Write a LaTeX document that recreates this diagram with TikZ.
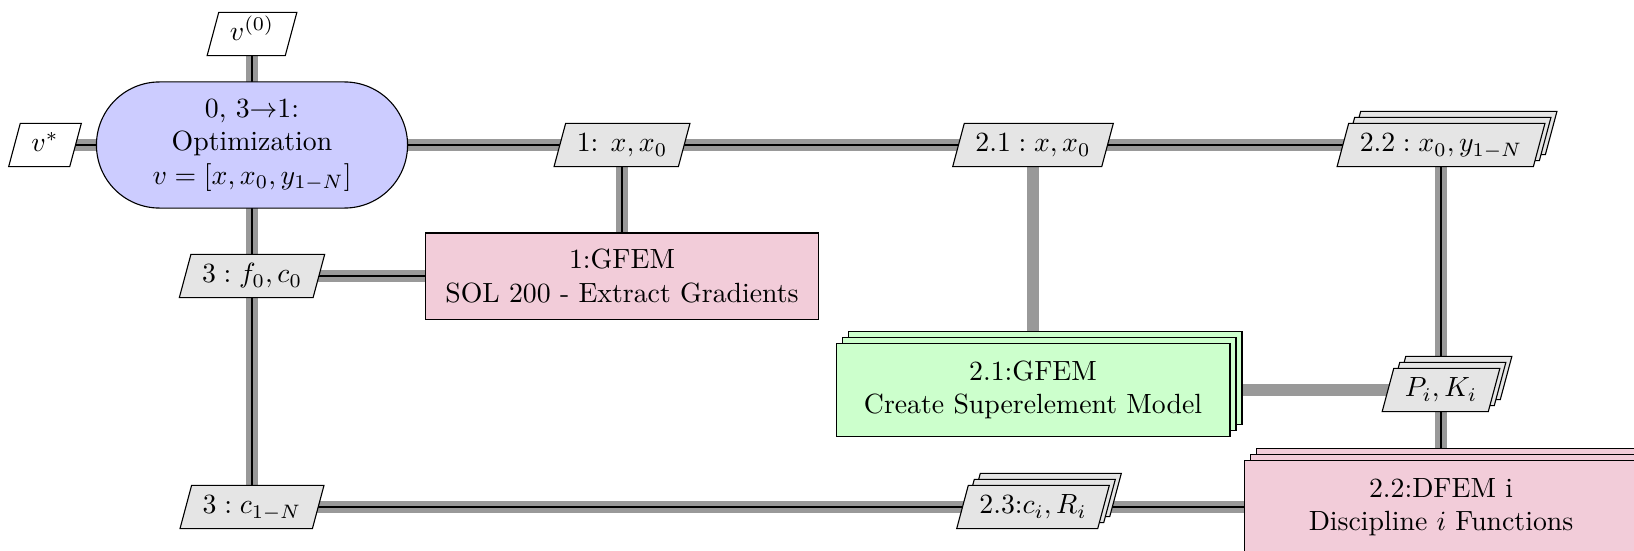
\documentclass[tikz,border=0pt]{standalone}
\usetikzlibrary{shapes.geometric,shapes.misc,shadows,backgrounds}
\definecolor{linegray}{gray}{0.6}
\definecolor{datafill}{gray}{0.9}
\definecolor{optfill}{rgb}{0.8,0.8,1}
\definecolor{funcfill}{rgb}{0.95,0.8,0.85}
\definecolor{anafill}{rgb}{0.8,1,0.8}
\tikzset{
  datanode/.style={draw, fill=datafill, trapezium, trapezium left angle=75, trapezium right angle=105,
    inner xsep=4pt, inner ysep=2.8pt, text height=7.5pt, text depth=2.5pt},
  ionode/.style={datanode, fill=white},
  stackshadow/.style={double copy shadow={shadow xshift=2.16pt, shadow yshift=2.16pt}},
  stackdata/.style={datanode, stackshadow},
  optnode/.style={draw, fill=optfill, rounded rectangle, minimum width=112pt, minimum height=45.4pt,
    align=center, inner sep=0pt},
  funcnode/.style={draw, fill=funcfill, rectangle, minimum width=141.5pt, minimum height=31pt,
    align=center, inner sep=0pt},
  stackfunc/.style={draw, fill=funcfill, rectangle, minimum width=141.8pt, minimum height=33.5pt,
    align=center, inner sep=0pt, stackshadow},
  stackana/.style={draw, fill=anafill, rectangle, minimum width=141.8pt, minimum height=33.5pt,
    align=center, inner sep=0pt, stackshadow},
  dataline/.style={draw=linegray, line width=4.6pt},
  procline/.style={draw=black, line width=1pt},
}
\begin{document}
\begin{tikzpicture}[x=0.36pt, y=-0.36pt]
\useasboundingbox (0,0) rectangle (1634,550);
\clip (0,0) rectangle (1634,550);
% nodes
\node[ionode] (v0) at (252,34) {$v^{(0)}$};
\node[ionode] (vstar) at (45,145) {$v^*$};
\node[optnode] (opt) at (252,145) {0, 3$\rightarrow$1:\\Optimization\\$v=[x, x_0, y_{1-N}]$};
\node[datanode] (d1) at (622,145) {1: $x, x_0$};
\node[datanode] (d21) at (1033,145) {$2.1: x, x_0$};
\node[stackdata] (d22) at (1441,145) {$2.2: x_0, y_{1-N}$};
\node[datanode] (d3f) at (252,276) {$3: f_0, c_0$};
\node[funcnode] (gfem1) at (622,276) {1:GFEM\\SOL 200 - Extract Gradients};
\node[stackana] (green) at (1033,390) {2.1:GFEM\\Create Superelement Model};
\node[stackdata] (pk) at (1441,390) {$P_i, K_i$};
\node[datanode] (d3c) at (252,507) {$3: c_{1-N}$};
\node[stackdata] (d23) at (1033,507) {2.3:$c_i, R_i$};
\node[stackfunc] (dfem) at (1441,507) {2.2:DFEM i\\Discipline $i$ Functions};
% connectors
\begin{scope}[on background layer]
\foreach \a/\b in {v0/opt, vstar/opt, opt/d1, d1/d21, d21/d22, d1/gfem1, d21/green, green/pk,
    d22/pk, pk/dfem, opt/d3f, d3f/d3c, d3f/gfem1, d3c/d23, d23/dfem}
  \draw[dataline] (\a.center) -- (\b.center);
\foreach \a/\b in {v0/opt, vstar/opt, opt/d1, d1/d21, d21/d22, d1/gfem1,
    d22/pk, pk/dfem, opt/d3f, d3f/d3c, d3f/gfem1, d3c/d23, d23/dfem}
  \draw[procline] (\a.center) -- (\b.center);
\end{scope}
\end{tikzpicture}
\end{document}
